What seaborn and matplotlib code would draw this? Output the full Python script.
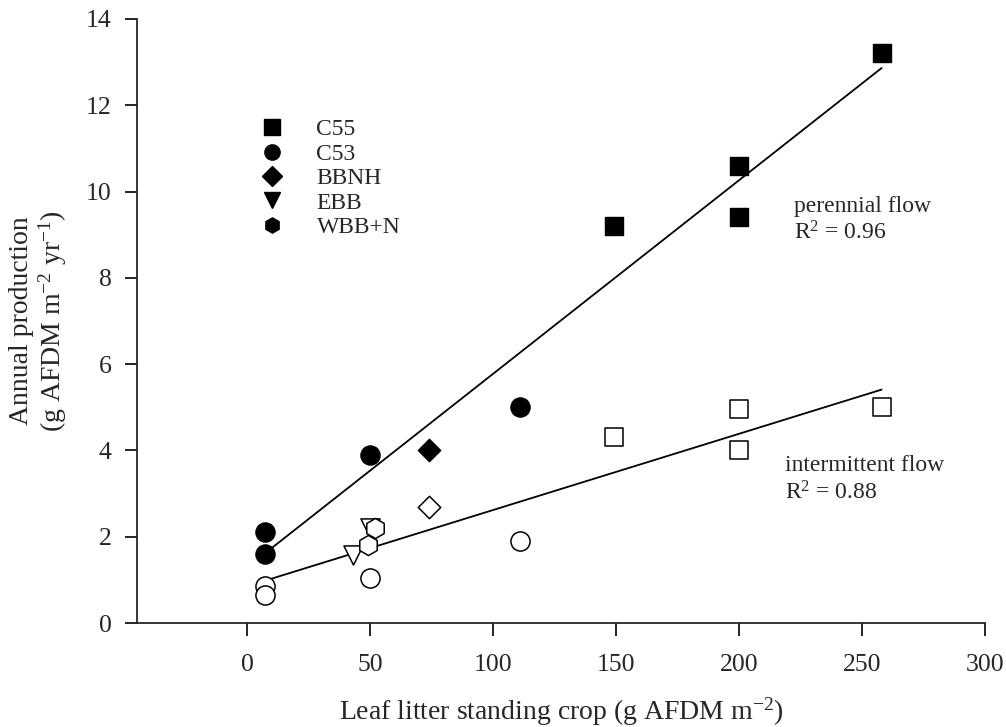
import matplotlib
matplotlib.use("Agg")
import matplotlib.pyplot as plt
from matplotlib.lines import Line2D
import seaborn as sns
import pandas as pd

# perennial flow (filled symbols)
per_site = ["C55", "C55", "C55", "C55", "C53", "C53", "C53", "C53", "BBNH"]
per_x = [258, 200, 200, 149, 7, 7, 50, 111, 74]
per_y = [13.2, 10.6, 9.4, 9.2, 2.1, 1.6, 3.9, 5.0, 4.0]

# intermittent flow (open symbols)
int_site = ["C55", "C55", "C55", "C55", "C53", "C53", "C53", "C53", "BBNH",
            "EBB", "EBB", "WBB+N", "WBB+N"]
int_x = [258, 200, 200, 149, 7, 7, 50, 111, 74, 43, 50, 49, 52]
int_y = [5.0, 4.95, 4.0, 4.3, 0.85, 0.65, 1.05, 1.9, 2.7, 1.58, 2.2, 1.8, 2.2]

sites = ["C55", "C53", "BBNH", "EBB", "WBB+N"]
markers = {"C55": "s", "C53": "o", "BBNH": "D", "EBB": "v", "WBB+N": "h"}
sizes = {"C55": 150, "C53": 190, "BBNH": 130, "EBB": 190, "WBB+N": 210}

per = pd.DataFrame({"site": per_site, "x": per_x, "y": per_y})
inter = pd.DataFrame({"site": int_site, "x": int_x, "y": int_y})

sns.set_style("ticks")
plt.rcParams["font.family"] = ["Liberation Serif", "DejaVu Serif"]
plt.rcParams["mathtext.fontset"] = "custom"
plt.rcParams["mathtext.rm"] = "Liberation Serif"
plt.rcParams["mathtext.it"] = "Liberation Serif:italic"

fig = plt.figure(figsize=(10.06, 7.27), dpi=100)
ax = fig.add_axes([0.136, 0.143, 0.843, 0.831])

# fitted regression lines, one per flow type
for df in [per, inter]:
    sns.regplot(data=df, x="x", y="y", ax=ax, scatter=False, ci=None,
                truncate=True, color="black", line_kws={"lw": 1.3})

for site in sites:
    sub = per[per["site"] == site]
    if len(sub):
        sns.scatterplot(data=sub, x="x", y="y", ax=ax, marker=markers[site],
                        s=sizes[site], color="black", edgecolor="black",
                        linewidth=1, zorder=3)
    sub = inter[inter["site"] == site]
    if len(sub):
        sns.scatterplot(data=sub, x="x", y="y", ax=ax, marker=markers[site],
                        s=sizes[site], facecolor="white", edgecolor="black",
                        linewidth=1.1, zorder=3)

handles = [Line2D([], [], ls="none", marker=markers[s], color="black",
                  markersize=11 if s != "BBNH" else 10) for s in sites]
ax.legend(handles, sites, loc="upper left", bbox_to_anchor=(0.12, 0.85),
          frameon=False, fontsize=17, handletextpad=0.9, labelspacing=0.12,
          borderaxespad=0)

ax.text(0.775, 0.626, "perennial flow\nR$^2$ = 0.96", transform=ax.transAxes,
        fontsize=17, va="bottom", linespacing=1.25)
ax.text(0.764, 0.197, "intermittent flow\nR$^2$ = 0.88", transform=ax.transAxes,
        fontsize=17, va="bottom", linespacing=1.25)

ax.set_xlim(-45, 300)
ax.set_ylim(0, 14)
ax.set_xticks([0, 50, 100, 150, 200, 250, 300])
ax.set_yticks(range(0, 15, 2))
ax.tick_params(labelsize=18.5, width=1.2, length=9, color="black", pad=9)
ax.tick_params(axis="x", pad=13)
for sp in ["left", "bottom"]:
    ax.spines[sp].set_linewidth(1.3)
sns.despine(ax=ax)

ax.set_xlabel("Leaf litter standing crop (g AFDM m$^{-2}$)", fontsize=20, labelpad=14)
ax.set_ylabel("Annual production\n(g AFDM m$^{-2}$ yr$^{-1}$)", fontsize=20,
              labelpad=12, linespacing=1.1)

fig.savefig("out.png", dpi=100)
